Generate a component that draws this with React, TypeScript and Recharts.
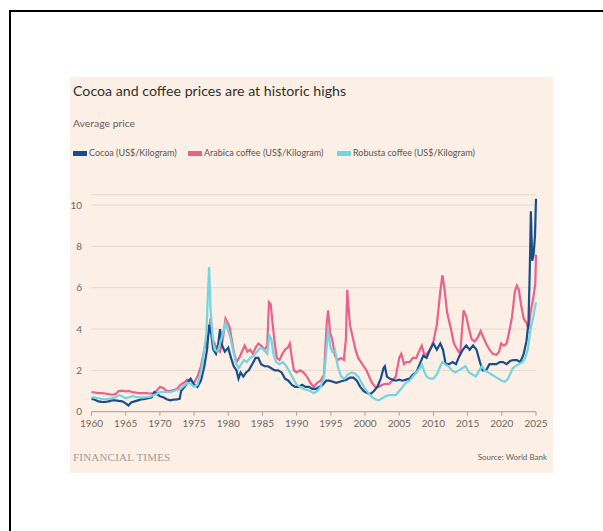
import React from 'react';
import { LineChart, Line, XAxis, YAxis, CartesianGrid } from 'recharts';

// [year, US$/kg]
const cocoa: [number, number][] = [
  [1960, 0.62], [1960.5, 0.58], [1961, 0.5], [1961.5, 0.48], [1962, 0.47], [1962.5, 0.5], [1963, 0.55], [1963.5, 0.55],
  [1964, 0.52], [1964.5, 0.5], [1965, 0.4], [1965.4, 0.3], [1965.8, 0.45], [1966.3, 0.5], [1966.8, 0.55], [1967.3, 0.6],
  [1967.8, 0.62], [1968.3, 0.65], [1968.8, 0.7], [1969.2, 0.95], [1969.6, 0.85], [1970, 0.75], [1970.5, 0.7], [1971, 0.6],
  [1971.5, 0.55], [1972, 0.58], [1972.5, 0.6], [1972.9, 0.62], [1973.1, 1.0], [1973.6, 1.2], [1974, 1.4], [1974.5, 1.6],
  [1975, 1.3], [1975.5, 1.2], [1976, 1.5], [1976.5, 2.2], [1976.9, 3.0], [1977.2, 4.2], [1977.5, 3.8], [1977.8, 3.0],
  [1978.2, 2.8], [1978.5, 3.2], [1978.8, 4.0], [1979.1, 3.2], [1979.5, 2.9], [1980, 3.1], [1980.4, 2.6], [1980.8, 2.2],
  [1981.2, 2.0], [1981.5, 1.6], [1981.8, 1.9], [1982.2, 1.7], [1982.6, 1.9], [1983, 2.0], [1983.5, 2.3], [1984, 2.6],
  [1984.4, 2.6], [1984.8, 2.3], [1985.3, 2.2], [1985.8, 2.2], [1986.3, 2.1], [1986.8, 2.0], [1987.3, 2.0], [1987.8, 1.9],
  [1988.3, 1.6], [1988.8, 1.5], [1989.3, 1.3], [1989.8, 1.2], [1990.3, 1.2], [1990.8, 1.3], [1991.3, 1.2], [1991.8, 1.2],
  [1992.3, 1.1], [1992.8, 1.1], [1993.3, 1.2], [1993.8, 1.3], [1994.3, 1.5], [1994.8, 1.5], [1995.3, 1.45], [1995.8, 1.4],
  [1996.3, 1.45], [1996.8, 1.5], [1997.3, 1.55], [1997.8, 1.65], [1998.3, 1.65], [1998.8, 1.5], [1999.3, 1.2], [1999.8, 1.0],
  [2000.3, 0.9], [2000.8, 0.85], [2001.3, 1.0], [2001.8, 1.2], [2002.3, 1.6], [2002.7, 2.1], [2002.9, 2.2], [2003.2, 1.7],
  [2003.6, 1.6], [2004, 1.55], [2004.5, 1.5], [2005, 1.55], [2005.5, 1.5], [2006, 1.55], [2006.5, 1.6], [2007, 1.8],
  [2007.5, 1.9], [2008, 2.3], [2008.5, 2.7], [2009, 2.6], [2009.5, 3.0], [2010, 3.3], [2010.5, 3.0], [2011, 3.3],
  [2011.4, 3.0], [2011.8, 2.3], [2012.3, 2.3], [2012.8, 2.4], [2013.3, 2.3], [2013.8, 2.7], [2014.3, 3.0], [2014.8, 3.2],
  [2015.3, 3.0], [2015.8, 3.2], [2016.3, 3.0], [2016.8, 2.4], [2017.2, 2.0], [2017.7, 2.0], [2018.2, 2.3], [2018.7, 2.3],
  [2019.2, 2.3], [2019.7, 2.4], [2020.2, 2.4], [2020.7, 2.3], [2021.2, 2.45], [2021.7, 2.5], [2022.2, 2.5], [2022.7, 2.4],
  [2023.2, 2.8], [2023.6, 3.4], [2023.9, 4.3], [2024.1, 7.0], [2024.25, 9.7], [2024.45, 7.3], [2024.65, 7.6], [2024.85, 8.5],
  [2025, 10.3],
];

const arabica: [number, number][] = [
  [1960, 0.95], [1960.5, 0.93], [1961, 0.9], [1961.5, 0.9], [1962, 0.88], [1962.5, 0.85], [1963, 0.82], [1963.5, 0.85],
  [1964, 1.0], [1964.5, 1.02], [1965, 0.98], [1965.5, 1.0], [1966, 0.95], [1966.5, 0.92], [1967, 0.9], [1967.5, 0.9],
  [1968, 0.9], [1968.5, 0.88], [1969, 0.9], [1969.5, 1.0], [1970, 1.2], [1970.5, 1.15], [1971, 1.0], [1971.5, 1.0],
  [1972, 1.05], [1972.5, 1.1], [1973, 1.3], [1973.5, 1.4], [1974, 1.55], [1974.5, 1.5], [1975, 1.4], [1975.5, 1.7],
  [1976, 2.2], [1976.5, 3.0], [1976.9, 3.4], [1977.2, 4.0], [1977.4, 4.5], [1977.7, 3.5], [1978, 3.3], [1978.4, 3.0],
  [1978.8, 2.9], [1979.2, 3.5], [1979.6, 4.5], [1979.9, 4.3], [1980.2, 4.1], [1980.5, 3.5], [1980.8, 2.9], [1981.2, 2.4],
  [1981.6, 2.6], [1982, 2.9], [1982.4, 3.2], [1982.8, 2.9], [1983.2, 3.0], [1983.6, 2.8], [1984, 3.1], [1984.4, 3.3],
  [1984.8, 3.2], [1985.3, 3.0], [1985.7, 3.2], [1985.95, 5.3], [1986.2, 5.2], [1986.5, 4.2], [1986.8, 3.3], [1987.1, 2.6],
  [1987.5, 2.5], [1987.9, 2.8], [1988.3, 3.0], [1988.7, 3.1], [1989, 3.3], [1989.3, 2.6], [1989.6, 2.0], [1990, 1.9],
  [1990.5, 2.0], [1991, 1.9], [1991.5, 1.7], [1992, 1.4], [1992.5, 1.2], [1993, 1.4], [1993.5, 1.5], [1994, 1.8],
  [1994.4, 4.3], [1994.6, 4.9], [1994.9, 3.8], [1995.2, 3.5], [1995.6, 2.7], [1996, 2.5], [1996.5, 2.6], [1996.9, 2.5],
  [1997.2, 3.5], [1997.4, 5.9], [1997.6, 5.0], [1997.8, 4.2], [1998.2, 3.6], [1998.6, 3.0], [1999, 2.6], [1999.4, 2.4],
  [1999.8, 2.2], [2000.2, 2.0], [2000.6, 1.7], [2001, 1.4], [2001.5, 1.2], [2002, 1.2], [2002.5, 1.3], [2003, 1.35],
  [2003.5, 1.35], [2004, 1.5], [2004.5, 1.7], [2005, 2.6], [2005.3, 2.8], [2005.7, 2.3], [2006, 2.4], [2006.5, 2.4],
  [2007, 2.6], [2007.5, 2.6], [2008, 3.0], [2008.3, 3.2], [2008.7, 2.7], [2009, 2.8], [2009.5, 3.0], [2010, 3.4],
  [2010.5, 4.2], [2011, 5.8], [2011.3, 6.6], [2011.6, 6.0], [2012, 4.8], [2012.5, 4.1], [2013, 3.3], [2013.5, 3.0],
  [2013.9, 2.8], [2014.2, 4.0], [2014.4, 4.9], [2014.8, 4.6], [2015.2, 4.0], [2015.6, 3.5], [2016, 3.4], [2016.5, 3.6],
  [2016.9, 3.9], [2017.3, 3.6], [2017.7, 3.3], [2018.2, 3.0], [2018.7, 2.8], [2019.2, 2.75], [2019.6, 2.9], [2019.9, 3.3],
  [2020.3, 3.2], [2020.7, 3.3], [2021.1, 3.9], [2021.5, 4.6], [2021.9, 5.8], [2022.2, 6.1], [2022.5, 5.9], [2022.8, 5.2],
  [2023.2, 4.5], [2023.6, 4.3], [2023.9, 4.0], [2024.2, 4.8], [2024.6, 5.5], [2024.9, 6.2], [2025, 7.6],
];

const robusta: [number, number][] = [
  [1960, 0.7], [1960.5, 0.68], [1961, 0.65], [1961.5, 0.62], [1962, 0.6], [1962.5, 0.62], [1963, 0.65], [1963.5, 0.7],
  [1964, 0.8], [1964.5, 0.75], [1965, 0.65], [1965.5, 0.7], [1966, 0.75], [1966.5, 0.72], [1967, 0.7], [1967.5, 0.68],
  [1968, 0.7], [1968.5, 0.72], [1969, 0.8], [1969.5, 0.85], [1970, 0.95], [1970.5, 0.95], [1971, 0.95], [1971.5, 0.95],
  [1972, 1.0], [1972.5, 1.05], [1973, 1.1], [1973.5, 1.25], [1974, 1.4], [1974.5, 1.35], [1975, 1.2], [1975.5, 1.3],
  [1976, 1.9], [1976.4, 2.8], [1976.8, 3.8], [1977, 5.5], [1977.2, 7.0], [1977.4, 5.0], [1977.7, 3.6], [1978, 3.0],
  [1978.4, 2.9], [1978.8, 3.3], [1979.2, 3.8], [1979.6, 4.3], [1979.9, 4.0], [1980.3, 3.6], [1980.7, 3.0], [1981.1, 2.4],
  [1981.5, 2.1], [1981.9, 2.3], [1982.3, 2.5], [1982.7, 2.4], [1983.2, 2.6], [1983.7, 2.7], [1984.2, 2.9], [1984.7, 3.1],
  [1985.2, 3.0], [1985.7, 2.8], [1986, 3.7], [1986.3, 3.5], [1986.6, 2.8], [1987, 2.4], [1987.5, 2.3], [1988, 2.4],
  [1988.5, 2.2], [1989, 1.9], [1989.5, 1.6], [1990, 1.3], [1990.5, 1.2], [1991, 1.1], [1991.5, 1.05], [1992, 1.0],
  [1992.5, 0.9], [1993, 1.0], [1993.5, 1.2], [1994, 1.7], [1994.3, 2.8], [1994.6, 4.0], [1994.9, 3.2], [1995.2, 2.9],
  [1995.6, 3.0], [1996, 2.2], [1996.5, 1.7], [1997, 1.6], [1997.5, 1.8], [1998, 1.9], [1998.5, 1.85], [1999, 1.7],
  [1999.5, 1.4], [2000, 1.1], [2000.5, 0.9], [2001, 0.7], [2001.5, 0.6], [2002, 0.55], [2002.5, 0.65], [2003, 0.75],
  [2003.5, 0.8], [2004, 0.8], [2004.5, 0.8], [2005, 1.0], [2005.5, 1.2], [2006, 1.4], [2006.5, 1.5], [2007, 1.7],
  [2007.5, 1.9], [2008, 2.1], [2008.3, 2.3], [2008.7, 1.9], [2009, 1.7], [2009.5, 1.6], [2010, 1.6], [2010.5, 1.8],
  [2011, 2.2], [2011.3, 2.4], [2011.7, 2.3], [2012.2, 2.2], [2012.7, 2.0], [2013.2, 1.9], [2013.7, 2.0], [2014.2, 2.1],
  [2014.7, 2.2], [2015.2, 1.9], [2015.7, 1.8], [2016.2, 1.7], [2016.7, 2.0], [2017.1, 2.2], [2017.5, 2.0], [2018, 1.9],
  [2018.5, 1.8], [2019, 1.7], [2019.5, 1.6], [2020, 1.5], [2020.4, 1.45], [2020.8, 1.55], [2021.2, 1.8], [2021.6, 2.1],
  [2022, 2.2], [2022.5, 2.3], [2023, 2.4], [2023.4, 2.6], [2023.8, 3.0], [2024.2, 4.0], [2024.6, 4.6], [2025, 5.3],
];

const yearTicks = [1960, 1965, 1970, 1975, 1980, 1985, 1990, 1995, 2000, 2005, 2010, 2015, 2020, 2025];
const priceTicks = [0, 2, 4, 6, 8, 10];

const seriesNames = ['Cocoa (US$/Kilogram)', 'Arabica coffee (US$/Kilogram)', 'Robusta coffee (US$/Kilogram)'];
const colors = ['#1a4d8c', '#e8628b', '#72d5df'];

const toRows = (pts: [number, number][]) => pts.map(([t, v]) => ({ t, v }));

const sans = "Lato, 'Open Sans', sans-serif";
const tickStyle = { fontSize: 10, fill: '#6d6762', fontFamily: sans };

const App = () => {
  const legendX = [73, 188, 337];
  return (
    <div style={{ position: 'absolute', left: 0, top: 0, width: 603, height: 531, fontFamily: sans }}>
      <div style={{ position: 'absolute', left: 9, top: 10, width: 594, height: 521, borderTop: '2px solid #000', borderLeft: '2px solid #000', boxSizing: 'border-box' }} />
      <div style={{ position: 'absolute', left: 70, top: 77, width: 483, height: 396, background: '#fcefe5' }}>
        <LineChart width={483} height={396} margin={{ top: 117.7, right: 17, bottom: 41.3, left: 1.5 }}>
          <CartesianGrid vertical={false} stroke="#e4dad0" />
          <XAxis
            type="number"
            dataKey="t"
            domain={[1960, 2025]}
            ticks={yearTicks}
            height={20}
            tick={tickStyle}
            tickSize={4}
            tickMargin={4}
            stroke="#a8a29c"
            allowDuplicatedCategory={false}
          />
          <YAxis
            domain={[0, 10.5]}
            ticks={priceTicks}
            width={20}
            axisLine={false}
            tickLine={false}
            tickSize={0}
            tickMargin={9.5}
            tick={tickStyle}
          />
          <Line data={toRows(arabica)} dataKey="v" stroke={colors[1]} strokeWidth={2.2} dot={false} isAnimationActive={false} />
          <Line data={toRows(cocoa)} dataKey="v" stroke={colors[0]} strokeWidth={2.2} dot={false} isAnimationActive={false} />
          <Line data={toRows(robusta)} dataKey="v" stroke={colors[2]} strokeWidth={2.2} dot={false} isAnimationActive={false} />
        </LineChart>
      </div>
      <div style={{ position: 'absolute', left: 73, top: 83, fontSize: 14.2, lineHeight: '16px', color: '#33302e' }}>
        Cocoa and coffee prices are at historic highs
      </div>
      <div style={{ position: 'absolute', left: 73, top: 117, fontSize: 10.4, lineHeight: '12px', color: '#66605b' }}>
        Average price
      </div>
      {seriesNames.map((name, i) => (
        <div key={name} style={{ position: 'absolute', left: legendX[i], top: 148, display: 'flex', alignItems: 'center', fontSize: 9, lineHeight: '10px', color: '#5a5550', whiteSpace: 'nowrap' }}>
          <span style={{ display: 'inline-block', width: 14, height: 5, background: colors[i], marginRight: 2 }} />
          {name}
        </div>
      ))}
      <div style={{ position: 'absolute', left: 73, top: 451, fontSize: 11, lineHeight: '12px', color: '#a39b95', fontFamily: "'Liberation Serif', serif", letterSpacing: 0.2 }}>
        FINANCIAL TIMES
      </div>
      <div style={{ position: 'absolute', right: 603 - 547, top: 452, fontSize: 8, lineHeight: '10px', color: '#66605b' }}>
        Source: World Bank
      </div>
    </div>
  );
};

export default App;
